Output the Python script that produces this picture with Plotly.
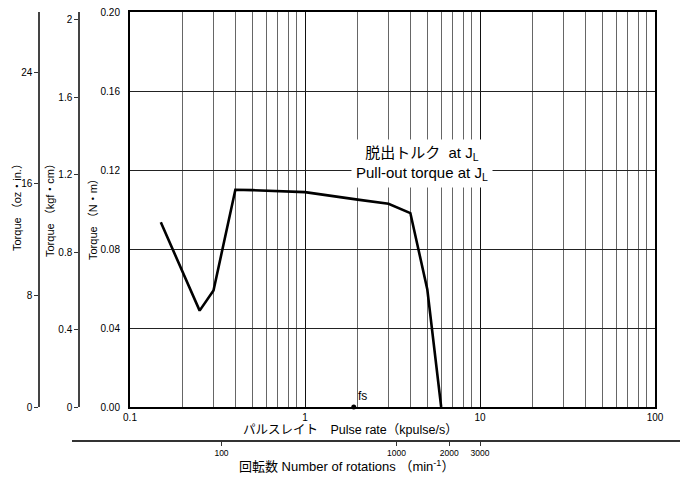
import math
import plotly.graph_objects as go

# ---- data ----
pulse_rate = [0.15, 0.25, 0.3, 0.4, 0.5, 1, 2, 3, 4, 5, 6]          # kpulse/s
torque_nm = [0.0935, 0.0488, 0.059, 0.110, 0.1098, 0.1088, 0.1050, 0.1029, 0.0982, 0.0595, 0.0]
fs_rate = [1.9]
fs_torque = [0.0]
nm_ticks = [0.0, 0.04, 0.08, 0.12, 0.16, 0.20]
kgf_ticks = [0, 0.4, 0.8, 1.2, 1.6, 2]
kgf_labels = ["0", "0.4", "0.8", "1.2", "1.6", "2"]
oz_ticks = [0, 8, 16, 24]
oz_labels = ["0", "8", "16", "24"]
x_major = [0.1, 1, 10, 100]
x_major_labels = ["0.1", "1", "10", "100"]
rpm_ticks = [100, 1000, 2000, 3000]
rpm_labels = ["100", "1000", "2000", "3000"]
STEPS_PER_REV = 200
NM_PER_KGFCM = 0.0980665
NM_PER_OZIN = 0.00706155

x_minor = [m * d for d in [0.1, 1, 10] for m in range(2, 10)]

OFF = 8                      # page body margin
FW, FH = 688 - OFF, 477 - OFF
ML, MR, MT, MB = 2, 2, 4, 2
PW, PH = FW - ML - MR, FH - MT - MB


def fx(px):
    return (px - OFF - ML) / PW


def fy(py):
    return (FH - MB - (py - OFF)) / PH


FONT = "Liberation Sans, Noto Sans CJK JP, sans-serif"

fig = go.Figure()

fig.add_trace(go.Scatter(
    x=pulse_rate, y=torque_nm, mode="lines",
    line=dict(color="black", width=2.6), hoverinfo="skip", showlegend=False,
    xaxis="x", yaxis="y"))

fig.add_trace(go.Scatter(
    x=fs_rate, y=fs_torque, mode="markers+text", text=["fs"],
    textposition="top right", textfont=dict(size=12, color="black", family=FONT),
    marker=dict(color="black", size=5), cliponaxis=False,
    hoverinfo="skip", showlegend=False, xaxis="x", yaxis="y"))

# invisible helper traces so the secondary axes render
fig.add_trace(go.Scatter(x=rpm_ticks, y=[0.5] * len(rpm_ticks), mode="markers",
                         marker=dict(opacity=0), hoverinfo="skip", showlegend=False,
                         xaxis="x2", yaxis="y4"))
fig.add_trace(go.Scatter(x=[1] * len(kgf_ticks), y=kgf_ticks, mode="markers",
                         marker=dict(opacity=0), hoverinfo="skip", showlegend=False,
                         xaxis="x", yaxis="y2"))
fig.add_trace(go.Scatter(x=[1] * len(oz_ticks), y=oz_ticks, mode="markers",
                         marker=dict(opacity=0), hoverinfo="skip", showlegend=False,
                         xaxis="x", yaxis="y3"))

x_left, x_right = 130, 655
dec_px = (x_right - x_left) / 3.0
log_rpm_per_kpps = math.log10(1000 * 60 / STEPS_PER_REV)
x2_left_px, x2_right_px = 72, 680
x2_range = [log_rpm_per_kpps - 1 - (x_left - x2_left_px) / dec_px,
            log_rpm_per_kpps + 2 + (x2_right_px - x_right) / dec_px]

ydom = [fy(407), fy(12)]
nm_max = 0.20

fig.update_layout(
    width=FW, height=FH,
    margin=dict(l=ML, r=MR, t=MT, b=MB, autoexpand=False),
    paper_bgcolor="white", plot_bgcolor="white",
    font=dict(family=FONT, color="black", size=10),
    xaxis=dict(
        type="log", range=[-1, 2], domain=[fx(x_left), fx(x_right)],
        anchor="y",
        tickvals=x_major, ticktext=x_major_labels, ticks="",
        showgrid=True, gridcolor="#111", gridwidth=1,
        minor=dict(tickvals=x_minor, showgrid=True, gridcolor="#666", gridwidth=1, ticks=""),
        showline=True, linecolor="black", linewidth=2, mirror=True,
        tickfont=dict(size=10), zeroline=False,
    ),
    xaxis2=dict(
        type="log", range=x2_range, domain=[fx(x2_left_px), fx(x2_right_px)],
        anchor="y4", side="bottom",
        tickvals=rpm_ticks, ticktext=rpm_labels, ticks="outside", ticklen=4,
        tickcolor="#333", showgrid=False, showline=True, linecolor="#333", linewidth=1.5,
        tickfont=dict(size=8.5), zeroline=False,
    ),
    yaxis4=dict(
        range=[0, 1], domain=[fy(440), fy(440) + 0.02], anchor="x2",
        visible=False, showgrid=False, zeroline=False,
    ),
    yaxis=dict(
        range=[0, nm_max], domain=ydom, anchor="x",
        tickvals=nm_ticks, tickformat=".2f", ticks="outside", ticklen=6, tickcolor="white",
        ticklabeloverflow="allow",
        showgrid=True, gridcolor="#222", gridwidth=1,
        showline=True, linecolor="black", linewidth=2, mirror=True,
        zeroline=False, tickfont=dict(size=10),
    ),
    yaxis2=dict(
        range=[0, nm_max / NM_PER_KGFCM], overlaying="y",
        anchor="free", position=fx(79), side="left",
        tickvals=kgf_ticks, ticktext=kgf_labels, ticks="outside", ticklen=4,
        tickcolor="#333", showgrid=False, showline=True, linecolor="#444", linewidth=1.5,
        zeroline=False, tickfont=dict(size=10),
    ),
    yaxis3=dict(
        range=[0, nm_max / NM_PER_OZIN], overlaying="y",
        anchor="free", position=fx(39), side="left",
        tickvals=oz_ticks, ticktext=oz_labels, ticks="outside", ticklen=4,
        tickcolor="#333", showgrid=False, showline=True, linecolor="#444", linewidth=1.5,
        zeroline=False, tickfont=dict(size=10),
    ),
)


def ann(text, px, py, size, angle=0, **kw):
    d = dict(text=text, x=fx(px), y=fy(py), xref="paper", yref="paper",
             xanchor="center", yanchor="middle", showarrow=False,
             textangle=angle, font=dict(size=size, family=FONT, color="black"))
    d.update(kw)
    return d


annotations = [
    ann("脱出トルク  at J<sub>L</sub><br>Pull-out torque at J<sub>L</sub>", 422, 163, 15,
        bgcolor="white", borderpad=4, align="center"),
    ann("Torque （oz・in.）", 17, 205, 11, -90),
    ann("Torque （kgf・cm）", 50, 208, 11, -90),
    ann("Torque （N・m）", 93, 217, 11, -90),
    ann("パルスレイト　Pulse rate（kpulse/s）", 350, 430, 12.5),
    ann("回転数 Number of rotations （min<sup>-1</sup>）", 346, 466, 13),
]
fig.update_layout(annotations=annotations)

fig.write_html("out.html")
